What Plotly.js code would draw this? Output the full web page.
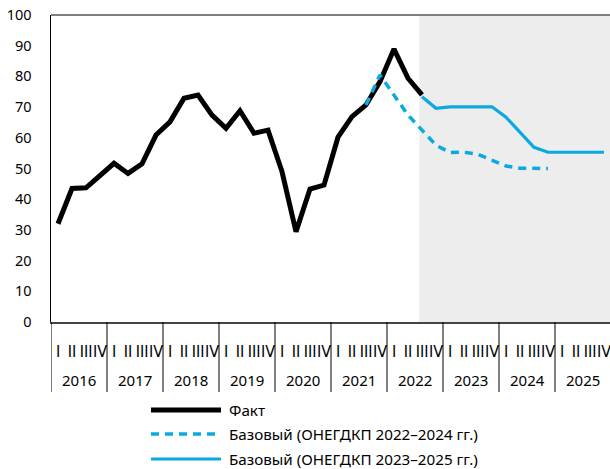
<!DOCTYPE html>
<html>
<head>
<meta charset="utf-8">
<script src="https://cdn.plot.ly/plotly-3.0.1.min.js"></script>
<style>html,body{margin:0;padding:0;background:#fff;}#chart{width:610px;height:469px;}</style>
</head>
<body>
<div id="chart"></div>
<script>
// ---- data ----
const years = ['2016','2017','2018','2019','2020','2021','2022','2023','2024','2025'];
const quarters = ['I','II','III','IV'];
// Факт, from 2016 Q1
const fact = [32, 43.5, 43.7, 47.7, 51.7, 48.4, 51.5, 60.9, 65.2, 72.9, 73.9, 67.4, 63.1, 68.8, 61.5, 62.5, 49.0, 29.4, 43.3, 44.6, 60.2, 66.9, 70.7, 78.3, 88.9, 79.4, 74.0];
const factStart = '2016 I';
// Базовый (ОНЕГДКП 2022–2024 гг.), from 2021 Q3
const base2224 = [70.7, 80.5, 73.9, 67.4, 62.5, 57.6, 55.2, 55.3, 54.6, 52.8, 50.8, 50.1, 50.0, 50.0];
const base2224Start = '2021 III';
// Базовый (ОНЕГДКП 2023–2025 гг.), from 2022 Q3
const base2325 = [73.4, 69.6, 70.1, 70.1, 70.1, 70.1, 66.7, 61.8, 56.9, 55.3, 55.3, 55.3, 55.3, 55.3];
const base2325Start = '2022 III';
const seriesNames = ['Факт', 'Базовый (ОНЕГДКП 2022–2024 гг.)', 'Базовый (ОНЕГДКП 2023–2025 гг.)'];
const forecastFrom = '2022 III';

// ---- helpers ----
const qLabels = [];
years.forEach(y => quarters.forEach(q => qLabels.push(y + ' ' + q)));
const idx = lbl => qLabels.indexOf(lbl);
const xs = (start, arr) => arr.map((_, i) => idx(start) + i);

const blue = '#0aa9e1';
const fontFam = '"Noto Sans", "Open Sans", sans-serif';
const narrow = '"Liberation Sans Narrow", "DejaVu Sans Condensed", Roboto, sans-serif';

const traces = [
  {x: xs(factStart, fact), y: fact, mode: 'lines', name: seriesNames[0],
   line: {color: '#000', width: 5, shape: 'linear'}, showlegend: false},
  {x: xs(base2224Start, base2224), y: base2224, mode: 'lines', name: seriesNames[1],
   line: {color: blue, width: 3.5, dash: '8px,6px'}, showlegend: false},
  {x: xs(base2325Start, base2325), y: base2325, mode: 'lines', name: seriesNames[2],
   line: {color: blue, width: 3.2}, showlegend: false}
];

// plot geometry helpers (paper coords)
const L = 51, T = 15, B = 322, W = 559, H = B - T;
const px = v => (v - L) / W;
const py = v => (B - v) / H;

const shapes = [];
const annotations = [];

// forecast shading
shapes.push({type: 'rect', xref: 'x', yref: 'paper', x0: idx(forecastFrom) - 0.2, x1: 40, y0: 0, y1: 1,
  fillcolor: '#ededed', line: {width: 0}, layer: 'below'});

// year separators and labels
years.forEach((y, i) => {
  shapes.push({type: 'line', xref: 'x', yref: 'paper', x0: i * 4 - 0.5, x1: i * 4 - 0.5,
    y0: 0, y1: py(392), line: {color: '#000', width: 1}});
  annotations.push({xref: 'x', yref: 'paper', x: i * 4 + 1.5, y: py(380), text: y, showarrow: false,
    font: {family: fontFam, size: 15, color: '#000'}, xanchor: 'center', yanchor: 'middle'});
});

// top border
shapes.push({type: 'line', xref: 'paper', yref: 'paper', x0: 0, x1: 1, y0: 1, y1: 1,
  line: {color: '#7f7f7f', width: 2}});

// legend (manual)
const legRows = [410, 434, 459];
const legStyles = [
  {color: '#000', width: 5},
  {color: blue, width: 3.5, dash: '8px,6px'},
  {color: blue, width: 3.2}
];
legRows.forEach((ry, i) => {
  shapes.push({type: 'line', xref: 'paper', yref: 'paper', x0: px(151), x1: px(221), y0: py(ry), y1: py(ry),
    line: legStyles[i]});
  annotations.push({xref: 'paper', yref: 'paper', x: px(227), y: py(ry), text: seriesNames[i], showarrow: false,
    xanchor: 'left', yanchor: 'middle', font: {family: fontFam, size: 15.2, color: '#000'}});
});

const layout = {
  width: 610, height: 469,
  margin: {l: L, r: 610 - L - W, t: T, b: 469 - B, pad: 0},
  paper_bgcolor: '#fff', plot_bgcolor: 'rgba(0,0,0,0)',
  showlegend: false,
  font: {family: fontFam, color: '#000'},
  xaxis: {
    range: [-0.5, -0.5 + W / 14], tickmode: 'array',
    tickvals: qLabels.map((_, i) => i),
    ticktext: qLabels.map(l => l.split(' ')[1]),
    tickangle: 0, ticklabeloverflow: 'allow',
    ticks: '', showgrid: false, zeroline: false,
    showline: true, linecolor: '#444', linewidth: 1.5,
    tickfont: {family: narrow, size: 16, color: '#000'},
    ticklabelstandoff: 14, fixedrange: true
  },
  yaxis: {
    range: [0, 100], dtick: 10, tick0: 0, ticks: '', showgrid: false, zeroline: false,
    showline: true, linecolor: '#000', linewidth: 1.5,
    tickfont: {family: fontFam, size: 14.5, color: '#000'},
    ticklabelstandoff: 15, fixedrange: true
  },
  shapes: shapes,
  annotations: annotations
};

Plotly.newPlot('chart', traces, layout, {displayModeBar: false, staticPlot: true});
</script>
</body>
</html>
